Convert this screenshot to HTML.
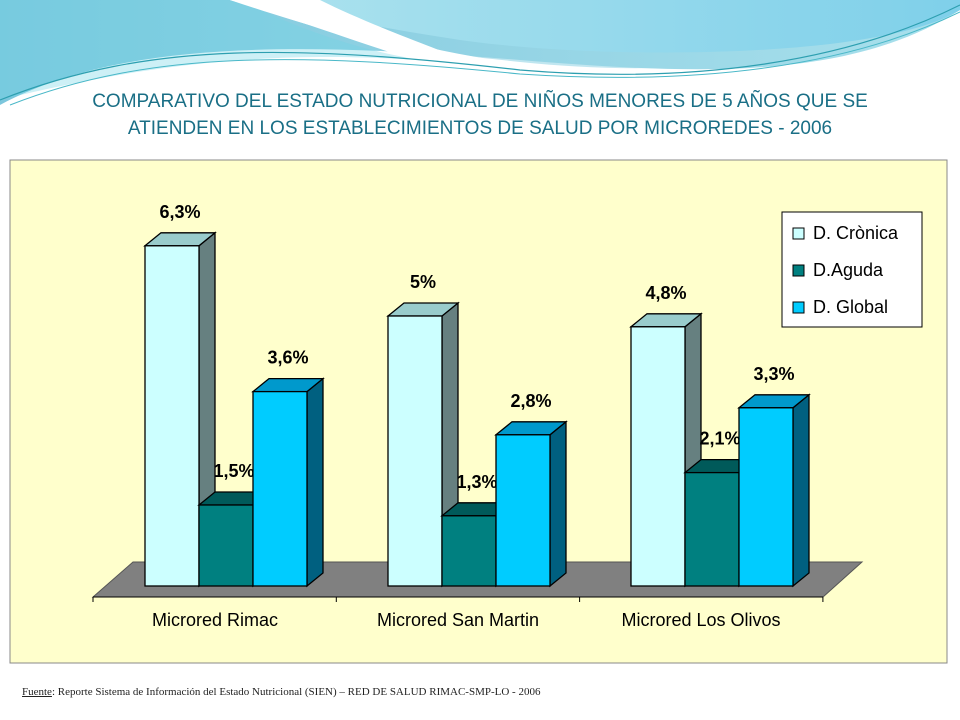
<!DOCTYPE html>
<html><head><meta charset="utf-8"><style>
body{margin:0;width:960px;height:720px;overflow:hidden;background:#fff;font-family:"Liberation Sans",sans-serif}
.title{position:absolute;left:0;width:960px;top:88px;text-align:center;color:#1a6f86;font-size:19px;line-height:27px}
.foot{position:absolute;left:22px;top:686px;font-family:"Liberation Serif",serif;font-size:11px;color:#222}
</style></head><body>
<svg width="960" height="120" style="position:absolute;left:0;top:0">
<defs><linearGradient id="g1" x1="0" x2="1"><stop offset="0" stop-color="#7cc6dc"/><stop offset="1" stop-color="#a9e0ec"/></linearGradient>
<linearGradient id="g2" x1="0" x2="1"><stop offset="0" stop-color="#aee3ee"/><stop offset="1" stop-color="#7fd0ea"/></linearGradient></defs>
<path d="M0 0H960V10C850 80 700 75 520 60C300 42 120 40 0 105Z" fill="url(#g1)"/>
<path d="M0 70C150 30 320 40 520 62C650 75 780 72 960 10V0H0Z" fill="url(#g1)" opacity=".6"/>
<path d="M240 0C300 30 360 50 420 60C330 55 200 50 0 100V0Z" fill="#6fd4e6" opacity=".35"/>
<path d="M230 0C330 30 400 58 420 60L520 64C420 50 330 25 280 0Z" fill="#fff"/>
<path d="M230 0H960V10C880 60 600 60 460 40C360 25 300 10 230 0Z" fill="url(#g2)"/>
<path d="M230 0C350 40 420 55 470 62C440 50 370 25 320 0Z" fill="#fff"/>
<path d="M0 100C150 40 300 45 520 70C700 85 850 60 960 5" stroke="#2d9fb0" fill="none" stroke-width="1.2"/>
<path d="M10 105C150 50 300 52 520 74C700 86 850 66 960 12" stroke="#4ab8c8" fill="none" stroke-width="1"/>
</svg>
<div class="title">COMPARATIVO DEL ESTADO NUTRICIONAL DE NIÑOS MENORES DE 5 AÑOS QUE SE<br>ATIENDEN EN LOS ESTABLECIMIENTOS DE SALUD POR MICROREDES - 2006</div>
<svg id="chart" width="960" height="720" style="position:absolute;left:0;top:0"></svg>
<div class="foot"><u>Fuente</u>: Reporte Sistema de Información del Estado Nutricional (SIEN) – RED DE SALUD RIMAC-SMP-LO - 2006</div>
<script>
const categories=["Microred Rimac","Microred San Martin","Microred Los Olivos"];
const seriesNames=["D. Crònica","D.Aguda","D. Global"];
const cronica=[6.3,5,4.8];
const aguda=[1.5,1.3,2.1];
const global=[3.6,2.8,3.3];
const valueLabels=[["6,3%","5%","4,8%"],["1,5%","1,3%","2,1%"],["3,6%","2,8%","3,3%"]];
const series=[cronica,aguda,global];
const fronts=["#ccffff","#008080","#00ccff"],tops=["#99cccc","#005a5a","#0099cc"],sides=["#668080","#004d4d","#006080"];
const NS="http://www.w3.org/2000/svg",svg=document.getElementById('chart');
function mk(t,a,p){const e=document.createElementNS(NS,t);for(const k in a)e.setAttribute(k,a[k]);(p||svg).appendChild(e);return e;}
const base=586,ppu=54,bw=54,dx=16,dy=13,g0=145,gs=243;
const y=v=>base-v*ppu, xg=(i,s)=>g0+i*gs+s*bw;
let e=mk('rect',{x:10,y:160,width:937,height:503,fill:'#ffffcc',stroke:'#888'});

e=mk('polygon',{points:'93,597 823,597 862,562 133,562',fill:'#808080',stroke:'#555'});

mk('line',{x1:93,y1:597,x2:823,y2:597,stroke:'#000'});
for(let i=0;i<=3;i++){mk('line',{x1:93+i*243.3,y1:597,x2:93+i*243.3,y2:602,stroke:'#000'});}
categories.forEach((c,i)=>{const t=mk('text',{x:215+i*243,y:626,'text-anchor':'middle','font-size':18});t.textContent=c;
});
categories.forEach((c,i)=>{for(let s=0;s<3;s++){const v=series[s][i],x=xg(i,s),t=y(v);
const g=mk('g',{});
mk('polygon',{points:`${x+bw},${t} ${x+bw+dx},${t-dy} ${x+bw+dx},${base-dy} ${x+bw},${base}`,fill:sides[s],stroke:'#000','stroke-width':1.3},g);
mk('polygon',{points:`${x},${t} ${x+dx},${t-dy} ${x+bw+dx},${t-dy} ${x+bw},${t}`,fill:tops[s],stroke:'#000','stroke-width':1.3},g);
mk('rect',{x:x,y:t,width:bw,height:base-t,fill:fronts[s],stroke:'#000','stroke-width':1.3},g);
const l=mk('text',{x:x+bw/2+dx/2,y:t-dy-15,'text-anchor':'middle','font-size':18,'font-weight':'bold'});l.textContent=valueLabels[s][i];
}});
const lg=mk('g',{});
mk('rect',{x:782,y:212,width:140,height:115,fill:'#fff',stroke:'#000'},lg);
seriesNames.forEach((n,s)=>{const r=mk('rect',{x:793,y:228+s*37,width:11,height:11,fill:fronts[s],stroke:'#000'},lg);
const t=mk('text',{x:813,y:239+s*37,'font-size':18},lg);t.textContent=n;
});
</script>
</body></html>
